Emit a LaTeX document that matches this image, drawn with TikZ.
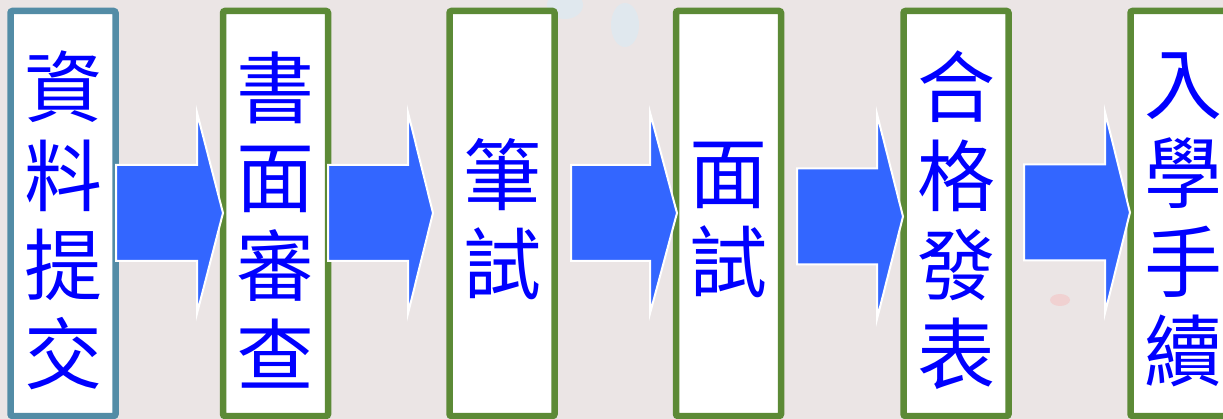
\documentclass[tikz,border=0pt]{standalone}
\usepackage{fontspec}
\newfontfamily\cjk{Noto Sans CJK TC}
\definecolor{bgc}{HTML}{EBE5E5}
\definecolor{boxblue}{HTML}{538CA6}
\definecolor{boxgreen}{HTML}{5C8A36}
\definecolor{arrowblue}{HTML}{3366FF}
\definecolor{txtblue}{HTML}{0000FF}
\tikzset{
  stagebox/.style={draw=boxgreen, fill=white, line width=6.5pt, rounded corners=2pt,
    minimum width=105pt, minimum height=405pt, inner sep=0pt},
  firstbox/.style={stagebox, draw=boxblue},
  lbl/.style={text=txtblue, align=center, inner sep=0pt,
    font=\cjk\fontsize{78}{89}\selectfont},
  blockarrow/.style={fill=arrowblue, draw=white, line width=2pt, line join=miter}
}
\begin{document}
\begin{tikzpicture}[x=1pt,y=-1pt]
\useasboundingbox (0,0) rectangle (1223,419);
\fill[bgc] (0,0) rectangle (1223,419);
% faint background blobs
\fill[blue!30!cyan!20, opacity=0.35] (565,5) ellipse [x radius=18, y radius=14];
\fill[blue!30!cyan!20, opacity=0.35] (625,25) ellipse [x radius=14, y radius=22];
\fill[red!40, opacity=0.25] (1060,300) ellipse [x radius=10, y radius=6];
% boxes
\node[firstbox] (b1) at (63,213.5) {};
\node[stagebox] (b2) at (275.5,213.5) {};
\node[stagebox] (b3) at (502,213.5) {};
\node[stagebox] (b4) at (728.5,213.5) {};
\node[stagebox] (b5) at (956,213.5) {};
\node[stagebox] (b6) at (1183,213.5) {};
% labels
\node[lbl] (t1) at (63,220) {資\\料\\提\\交};
\node[lbl] (t2) at (275.5,220) {書\\面\\審\\查};
\node[lbl] (t3) at (502,219) {筆\\試};
\node[lbl] (t4) at (728.5,220) {面\\試};
\node[lbl] (t5) at (956,220) {合\\格\\發\\表};
\node[lbl] (t6) at (1183,220) {入\\學\\手\\續};
% arrows
\foreach \xl/\xn/\xt/\yc/\hh in {116/197/223/213/100.5, 328/408/433/213/100.5, 571/650/677/213/100.5, 797/877/903/216.5/102.5, 1024/1105/1130/212.5/100.5}{
  \draw[blockarrow] (\xl,\yc-48) -- (\xn,\yc-48) -- (\xn,\yc-\hh) -- (\xt,\yc) -- (\xn,\yc+\hh) -- (\xn,\yc+48) -- (\xl,\yc+48) -- cycle;
}
\end{tikzpicture}
\end{document}
